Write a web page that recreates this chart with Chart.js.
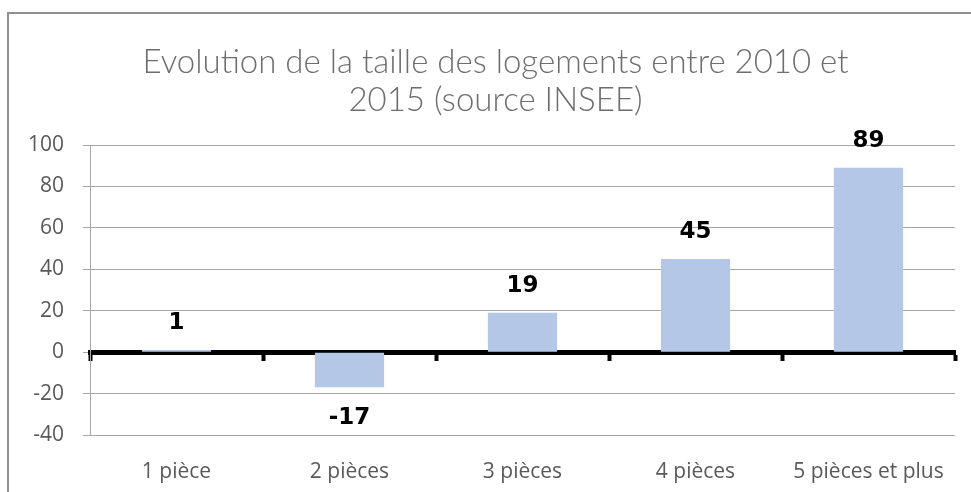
<!DOCTYPE html>
<html>
<head>
<meta charset="utf-8">
<script src="https://cdn.jsdelivr.net/npm/chart.js@4"></script>
<style>
  html, body { margin: 0; padding: 0; background: #fff; overflow: hidden; }
  #frame { position: absolute; left: 7px; top: 12px; width: 990px; height: 520px; border: 2px solid #8f8f8f; box-sizing: border-box; }
  #wrap { position: absolute; left: 0; top: 0; width: 971px; height: 492px; }
</style>
</head>
<body>
<div id="frame"></div>
<div id="wrap"><canvas id="chart" width="971" height="492"></canvas></div>
<script>
// Evolution 2010-2015, nombre de logements par taille
const rooms = ['1 pièce', '2 pièces', '3 pièces', '4 pièces', '5 pièces et plus'];
const changes = [1, -17, 19, 45, 89];
const yMin = -40;
const yMax = 100;
const yStep = 20;
const titleLines = ['Evolution de la taille des logements entre 2010 et', '2015 (source INSEE)'];

// labels en gras au-dessus / en dessous des barres
const barLabels = {
	id: 'barLabels',
	afterDraw(chart) {
		const ctx = chart.ctx;
		const meta = chart.getDatasetMeta(0);
		ctx.save();
		ctx.font = 'bold 23px "DejaVu Sans"';
		ctx.fillStyle = '#000';
		ctx.textAlign = 'center';
		ctx.textBaseline = 'middle';
		meta.data.forEach((bar, i) => {
			const v = changes[i];
			const y = v >= 0 ? bar.y - 27 : bar.y + 31;
			ctx.fillText(String(v), bar.x, y);
		});
		ctx.restore();
	}
};

// le titre est centré un peu à droite du milieu de l'image
const shiftTitle = {
	id: 'shiftTitle',
	afterLayout(chart) {
		chart.titleBlock.left += 36;
	}
};

const tickFont = { family: '"Open Sans"', size: 21 };

new Chart(document.getElementById('chart'), {
	type: 'bar',
	data: {
		labels: rooms,
		datasets: [{
			data: changes,
			xAxisID: 'x',
			yAxisID: 'y',
			backgroundColor: '#b4c7e7',
			borderWidth: 0,
			categoryPercentage: 1,
			barPercentage: 0.4
		}]
	},
	options: {
		responsive: false,
		animation: false,
		devicePixelRatio: 1,
		layout: { padding: { left: 0, right: 16, top: 0, bottom: 0 } },
		plugins: {
			legend: { display: false },
			tooltip: { enabled: false },
			title: {
				display: true,
				text: titleLines,
				color: '#6e6e6e',
				font: { family: 'Lato', weight: '300', size: 33, lineHeight: 38 / 33 },
				padding: { top: 43, bottom: 26 }
			}
		},
		scales: {
			x: {
				type: 'category',
				position: 'bottom',
				offset: true,
				grid: { display: false, drawTicks: false },
				border: { display: false },
				ticks: { color: '#595959', font: tickFont, padding: 24, maxRotation: 0, autoSkip: false },
				afterFit: (s) => { s.height = 57; }
			},
			x2: {
				type: 'category',
				axis: 'x',
				position: { y: 0 },
				offset: true,
				z: 1,
				grid: { offset: true, drawOnChartArea: false, drawTicks: true, tickLength: 6, tickWidth: 4, tickColor: '#000' },
				border: { display: true, color: '#000', width: 5 },
				ticks: { display: false }
			},
			y: {
				min: yMin,
				max: yMax,
				ticks: { stepSize: yStep, color: '#595959', font: tickFont, padding: 19 },
				grid: { color: '#a6a6a6', lineWidth: 1, tickLength: 7 },
				border: { color: '#a6a6a6', width: 1 },
				afterFit: (s) => { s.width = 90; }
			}
		}
	},
	plugins: [barLabels, shiftTitle]
});
</script>
</body>
</html>
